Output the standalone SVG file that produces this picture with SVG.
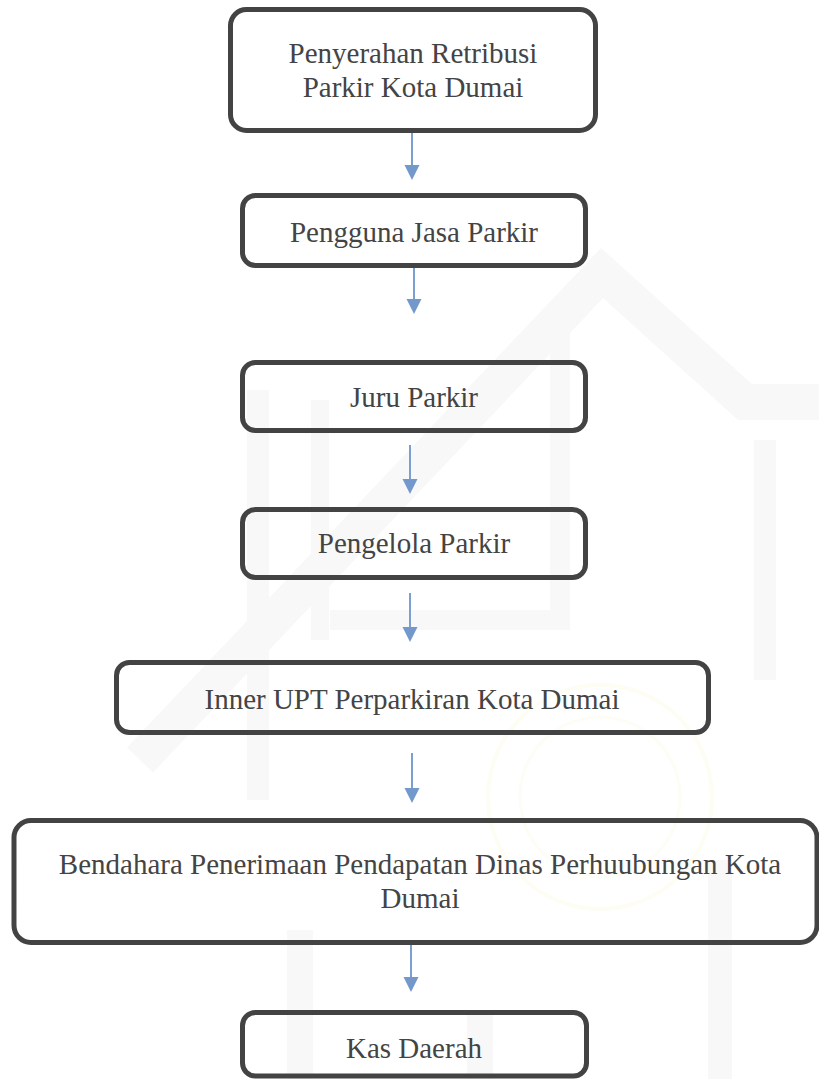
<svg xmlns="http://www.w3.org/2000/svg" width="819" height="1079" viewBox="0 0 819 1079">
  <style>
    .box { fill: none; stroke: #434343; stroke-width: 5; }
    .lbl { font-family: "Liberation Serif", "Times New Roman", serif; font-size: 29px; fill: #444444; text-anchor: middle; }
    .conn { stroke: #7a9fd0; stroke-width: 2; fill: none; }
    .head { fill: #7399cc; }
    .wm { fill: none; stroke: #f8f8f8; }
  </style>
  <rect width="819" height="1079" fill="#ffffff"/>
  <g id="watermark">
    <circle cx="600" cy="797" r="112" fill="none" stroke="#fdfdf4" stroke-width="4"/>
    <circle cx="600" cy="797" r="80" fill="none" stroke="#fdfdf6" stroke-width="3"/>
    <polyline class="wm" stroke-width="36" points="140,760 602,273 745,402 819,402"/>
    <polyline class="wm" stroke-width="22" points="258,390 258,800"/>
    <polyline class="wm" stroke-width="18" points="320,400 320,640"/>
    <polyline class="wm" stroke-width="20" points="560,330 560,620 330,620"/>
    <polyline class="wm" stroke-width="22" points="765,440 765,680"/>
    <polyline class="wm" stroke-width="26" points="300,930 300,1079"/>
    <polyline class="wm" stroke-width="26" points="480,1010 480,1079"/>
    <polyline class="wm" stroke-width="24" points="720,860 720,1079"/>
  </g>
  <g id="connectors">
    <line class="conn" x1="412" y1="133" x2="412" y2="165"/>
    <path class="head" d="M404.5,165 L419.5,165 L412,180 Z"/>
    <line class="conn" x1="414" y1="268" x2="414" y2="299"/>
    <path class="head" d="M406.5,299 L421.5,299 L414,314 Z"/>
    <line class="conn" x1="410" y1="445" x2="410" y2="479"/>
    <path class="head" d="M402.5,479 L417.5,479 L410,494 Z"/>
    <line class="conn" x1="410" y1="593" x2="410" y2="627"/>
    <path class="head" d="M402.5,627 L417.5,627 L410,642 Z"/>
    <line class="conn" x1="412" y1="753" x2="412" y2="788"/>
    <path class="head" d="M404.5,788 L419.5,788 L412,803 Z"/>
    <line class="conn" x1="411" y1="943" x2="411" y2="977"/>
    <path class="head" d="M403.5,977 L418.5,977 L411,992 Z"/>
  </g>
  <g id="n1">
    <rect class="box" x="230.5" y="9.5" width="365" height="121" rx="16"/>
    <text class="lbl" x="413" y="63">Penyerahan Retribusi</text>
    <text class="lbl" x="413" y="97">Parkir Kota Dumai</text>
  </g>
  <g id="n2">
    <rect class="box" x="242.5" y="195.5" width="343" height="70" rx="13"/>
    <text class="lbl" x="414" y="242">Pengguna Jasa Parkir</text>
  </g>
  <g id="n3">
    <rect class="box" x="242.5" y="362.5" width="343" height="68" rx="13"/>
    <text class="lbl" x="414" y="407">Juru Parkir</text>
  </g>
  <g id="n4">
    <rect class="box" x="242.5" y="509.5" width="343" height="68" rx="13"/>
    <text class="lbl" x="414" y="553">Pengelola Parkir</text>
  </g>
  <g id="n5">
    <rect class="box" x="116.5" y="662.5" width="592" height="70" rx="13"/>
    <text class="lbl" x="412" y="709">Inner UPT Perparkiran Kota Dumai</text>
  </g>
  <g id="n6">
    <rect class="box" x="14" y="820.5" width="803" height="122" rx="17"/>
    <text class="lbl" x="420" y="874">Bendahara Penerimaan Pendapatan Dinas Perhuubungan Kota</text>
    <text class="lbl" x="420" y="908">Dumai</text>
  </g>
  <g id="n7">
    <rect class="box" x="242.5" y="1012.5" width="344" height="63.5" rx="13"/>
    <text class="lbl" x="414" y="1058">Kas Daerah</text>
  </g>
</svg>
